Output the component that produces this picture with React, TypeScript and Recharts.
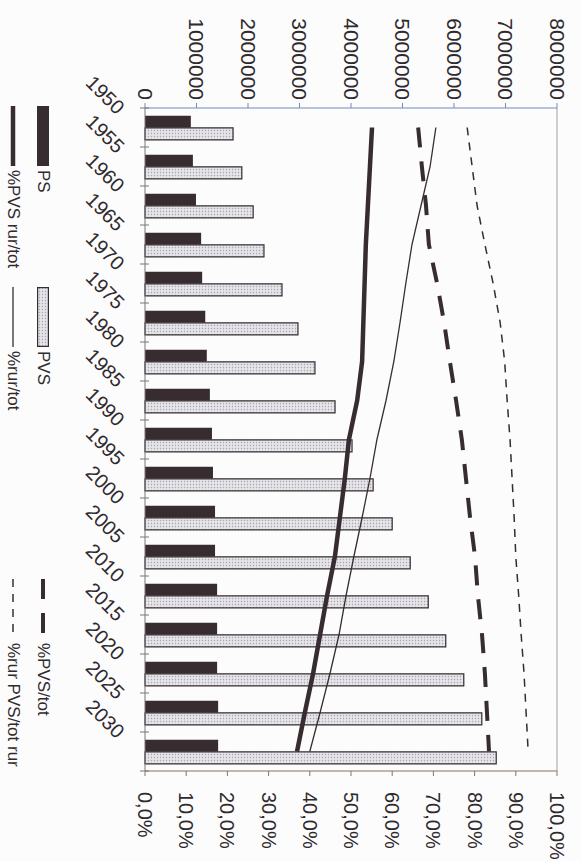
import React from "react";
import { Bar, ComposedChart, Legend, Line, ReferenceLine, XAxis, YAxis } from "recharts";

// the scanned chart is printed sideways, so it is drawn upright and turned 90deg
const years = ["1950", "1955", "1960", "1965", "1970", "1975", "1980", "1985", "1990", "1995", "2000", "2005", "2010", "2015", "2020", "2025", "2030"];
const psValues = [890000, 930000, 990000, 1090000, 1110000, 1170000, 1200000, 1260000, 1300000, 1320000, 1360000, 1360000, 1400000, 1400000, 1400000, 1420000, 1420000];
const pvsValues = [1710000, 1880000, 2100000, 2310000, 2660000, 2970000, 3300000, 3690000, 4020000, 4430000, 4800000, 5150000, 5500000, 5840000, 6190000, 6540000, 6820000];
const pvsTot = [66.3, 67.2, 68.2, 68.9, 70.9, 72.6, 74.0, 75.5, 76.9, 77.9, 78.9, 80.1, 80.8, 81.8, 82.5, 83.0, 83.5];
const pvsRurTot = [55.1, 54.6, 54.1, 53.6, 53.3, 53.0, 52.7, 51.5, 49.5, 48.5, 47.3, 46.1, 44.2, 42.5, 40.8, 38.8, 36.9];
const rurTot = [70.6, 69.2, 67.0, 64.8, 63.3, 61.9, 60.4, 58.5, 56.3, 54.6, 52.7, 50.7, 48.8, 47.1, 44.9, 42.5, 40.0];
const rurPvsTotRur = [78.2, 79.4, 80.6, 82.5, 84.5, 86.2, 87.3, 87.9, 88.6, 89.1, 89.6, 90.0, 90.7, 91.3, 92.0, 92.5, 93.0];

const leftTicks = [0, 1000000, 2000000, 3000000, 4000000, 5000000, 6000000, 7000000, 8000000];
const rightTicks = [0, 10, 20, 30, 40, 50, 60, 70, 80, 90, 100];

const names: Record<string, string> = {
  ps: "PS",
  pvs: "PVS",
  pvsTot: "%PVS/tot",
  pvsRurTot: "%PVS rur/tot",
  rurTot: "%rur/tot",
  rurPvsTotRur: "%rur PVS/tot rur",
};
const legendOrder = ["ps", "pvs", "pvsTot", "pvsRurTot", "rurTot", "rurPvsTotRur"];

const data = years.map((year, i) => ({
  year,
  ps: psValues[i],
  pvs: pvsValues[i],
  pvsTot: pvsTot[i],
  pvsRurTot: pvsRurTot[i],
  rurTot: rurTot[i],
  rurPvsTotRur: rurPvsTotRur[i],
}));

const FONT = '"Liberation Sans", Arial, sans-serif';
const INK = "#2f2a2e";
const DARK = "#372c2f";
const W = 861;
const H = 582;
const PLOT_LEFT = 108;
const PLOT_RIGHT = 771;
const HALF_BAND = (PLOT_RIGHT - PLOT_LEFT) / years.length / 2;

const lineStyles: Record<string, { width: number; dash?: string }> = {
  pvsTot: { width: 4, dash: "20 14" },
  pvsRurTot: { width: 4.5 },
  rurTot: { width: 1.3 },
  rurPvsTotRur: { width: 1.5, dash: "8 7" },
};

function YearTick(props: any) {
  const { x, y, payload, index } = props;
  const tx = x - 12;
  const ty = y + 29;
  return (
    <g>
      <line x1={x - HALF_BAND} x2={x - HALF_BAND} y1={y - 4} y2={y + 5} stroke="#777" />
      {index === years.length - 1 && (
        <line x1={x + HALF_BAND} x2={x + HALF_BAND} y1={y - 4} y2={y + 5} stroke="#777" />
      )}
      <text
        x={tx}
        y={ty}
        textAnchor="end"
        transform={`rotate(-45 ${tx} ${ty})`}
        fontSize={20}
        fill={INK}
        fontFamily={FONT}
      >
        {payload.value}
      </text>
    </g>
  );
}

function LegendKey({ dataKey }: { dataKey: string }) {
  if (dataKey === "ps") return <rect x={0} y={1} width={60} height={12} fill={DARK} />;
  if (dataKey === "pvs")
    return <rect x={0.6} y={1.6} width={58.8} height={10.8} fill="url(#dots)" stroke={DARK} strokeWidth={1.2} />;
  const s = lineStyles[dataKey];
  return <line x1={0} x2={60} y1={7} y2={7} stroke={DARK} strokeWidth={s.width} strokeDasharray={s.dash} />;
}

function LegendBox(props: any) {
  const payload = props.payload || [];
  const items = legendOrder.map((k) => payload.find((p: any) => p.dataKey === k)).filter(Boolean);
  return (
    <div
      style={{
        display: "grid",
        gridTemplateColumns: "181px 292px 240px",
        rowGap: 6,
        fontFamily: FONT,
        fontSize: 17,
        color: INK,
      }}
    >
      {items.map((item: any) => (
        <div key={item.dataKey} style={{ display: "flex", alignItems: "center", height: 24 }}>
          <svg width={62} height={14}>
            <LegendKey dataKey={item.dataKey} />
          </svg>
          <span style={{ marginLeft: 2 }}>{names[item.dataKey]}</span>
        </div>
      ))}
    </div>
  );
}

export default function App() {
  return (
    <div style={{ position: "absolute", left: 0, top: 0, width: 582, height: 861, background: "#fcfcfc", overflow: "hidden" }}>
      <div
        style={{
          position: "absolute",
          left: 0,
          top: 0,
          width: W,
          height: H,
          transform: "translate(582px, 0) rotate(90deg)",
          transformOrigin: "0 0",
        }}
      >
        <ComposedChart
          width={W}
          height={H}
          data={data}
          margin={{ top: 25, right: 0, bottom: 0, left: 0 }}
          barCategoryGap="20%"
          barGap={0}
        >
          <defs>
            <pattern id="dots" width="3" height="3" patternUnits="userSpaceOnUse">
              <rect width="3" height="3" fill="#e6e6ea" />
              <circle cx="1.5" cy="1.5" r="0.8" fill="#a8a8b2" />
            </pattern>
          </defs>
          <XAxis
            dataKey="year"
            height={145}
            interval={0}
            tickSize={0}
            tickMargin={0}
            tickLine={false}
            axisLine={{ stroke: "#777" }}
            tick={<YearTick />}
          />
          <YAxis
            yAxisId="left"
            width={108}
            domain={[0, 8000000]}
            ticks={leftTicks}
            interval={0}
            tickSize={5}
            tickMargin={3}
            axisLine={{ stroke: "#6f8cba" }}
            tickLine={{ stroke: "#6f8cba" }}
            tick={{ fontSize: 21, fill: INK, fontFamily: FONT }}
          />
          <YAxis
            yAxisId="right"
            orientation="right"
            width={90}
            domain={[0, 100]}
            ticks={rightTicks}
            interval={0}
            tickSize={5}
            tickMargin={16}
            tickFormatter={(v: number) => v.toFixed(1).replace(".", ",") + "%"}
            axisLine={{ stroke: "#8c6f66" }}
            tickLine={{ stroke: "#8c6f66" }}
            tick={{ fontSize: 20, fill: INK, fontFamily: FONT }}
          />
          <ReferenceLine yAxisId="left" y={8000000} stroke="#a0a0a0" />
          <Bar yAxisId="left" dataKey="ps" name={names.ps} fill={DARK} isAnimationActive={false} />
          <Bar
            yAxisId="left"
            dataKey="pvs"
            name={names.pvs}
            fill="url(#dots)"
            stroke={DARK}
            strokeWidth={1.2}
            isAnimationActive={false}
          />
          {["pvsTot", "pvsRurTot", "rurTot", "rurPvsTotRur"].map((k) => (
            <Line
              key={k}
              yAxisId="right"
              dataKey={k}
              name={names[k]}
              type="linear"
              stroke={DARK}
              strokeWidth={lineStyles[k].width}
              strokeDasharray={lineStyles[k].dash}
              dot={false}
              activeDot={false}
              isAnimationActive={false}
            />
          ))}
          <Legend
            layout="horizontal"
            verticalAlign="middle"
            align="center"
            wrapperStyle={{ left: 106, top: 527, width: 740 }}
            content={<LegendBox />}
          />
        </ComposedChart>
      </div>
    </div>
  );
}
